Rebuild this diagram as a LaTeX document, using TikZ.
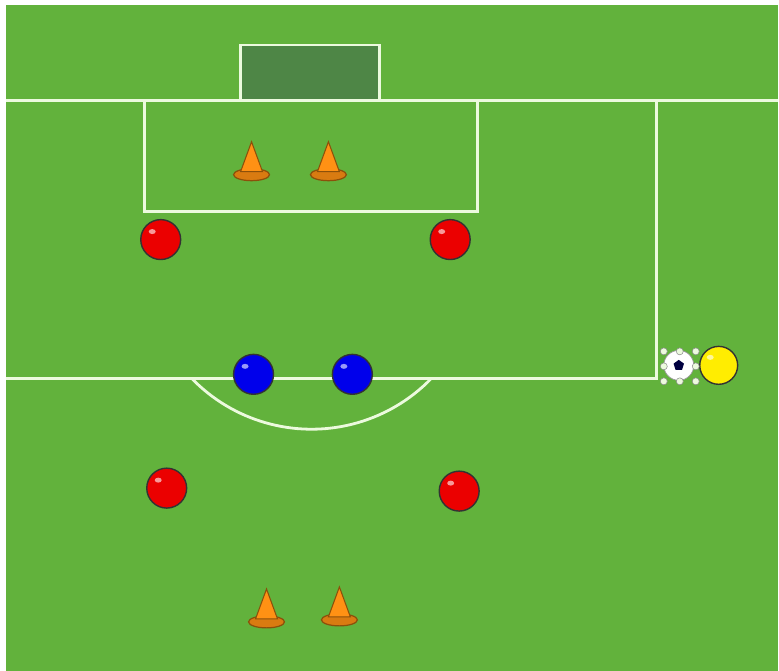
\documentclass[tikz,border=0pt]{standalone}
\usepackage{xcolor}
\usetikzlibrary{shapes}
\definecolor{pitch}{RGB}{98,178,60}
\definecolor{goalgreen}{RGB}{78,134,70}
\definecolor{chalk}{RGB}{236,250,222}
\definecolor{coneorange}{RGB}{255,145,20}
\definecolor{conerim}{RGB}{140,80,10}

\begin{document}
\begin{tikzpicture}[
  x=0.02cm, y=-0.02cm,
  chalkline/.style={draw=chalk, line width=1.6pt},
  ball/.style={circle, draw=black!80, line width=0.8pt, minimum size=0.8cm, inner sep=0pt,
               path picture={
                 \fill[white, opacity=0.6] ([xshift=-0.17cm,yshift=0.16cm]path picture bounding box.center)
                   ellipse [x radius=0.07cm, y radius=0.05cm];}},
  redball/.style={ball, fill=red!92!black},
  blueball/.style={ball, fill=blue!92!black},
  yellowball/.style={ball, fill=yellow!95!orange, minimum size=0.76cm},
  handle/.style={circle, fill=chalk, draw=black!45, line width=0.3pt,
                 minimum size=0.14cm, inner sep=0pt},
  cone/.pic={
    \fill[coneorange!85!black, draw=conerim, line width=0.7pt]
      (0,0) ellipse [x radius=0.36cm, y radius=0.12cm];
    \fill[coneorange, draw=conerim, line width=0.6pt]
      (-11,-3) -- (0,-33) -- (11,-3) -- cycle;
  }
]

% pitch and margins
\fill[white] (0,0) rectangle (779,672);
\fill[pitch] (6,5) rectangle (779,672);

% markings
\draw[chalkline, fill=goalgreen] (241,101) -- (241,45) -- (380,45) -- (380,101);
\draw[chalkline] (6,101) -- (779,101);
\draw[chalkline] (145,101) -- (145,212) -- (478,212) -- (478,101);
\draw[chalkline] (658,101) -- (658,379) -- (6,379);
\draw[chalkline] (192,379) arc[start angle=224, end angle=316, radius=3.34cm];

% cones
\pic at (252,175) {cone};
\pic at (329,175) {cone};
\pic at (267,623) {cone};
\pic at (340,621) {cone};

% players
\node[redball] (redtl) at (161,240) {};
\node[redball] (redtr) at (451,240) {};
\node[redball] (redbl) at (167,489) {};
\node[redball] (redbr) at (460,492) {};
\node[blueball] (blueleft) at (254,375) {};
\node[blueball] (blueright) at (353,375) {};
\node[yellowball] (yellow) at (720,366) {};

% ball with selection handles
\node[circle, fill=white, draw=black!40, minimum size=0.6cm, inner sep=0pt] (soccer) at (680,366) {};
\node[regular polygon, regular polygon sides=5, fill=black!75!blue,
      minimum size=0.22cm, inner sep=0pt] at (soccer) {};
\foreach \hx/\hy in {665/352, 681/352, 697/352, 665/367, 697/367, 665/382, 681/382, 697/382}
  \node[handle] at (\hx,\hy) {};

\end{tikzpicture}
\end{document}
